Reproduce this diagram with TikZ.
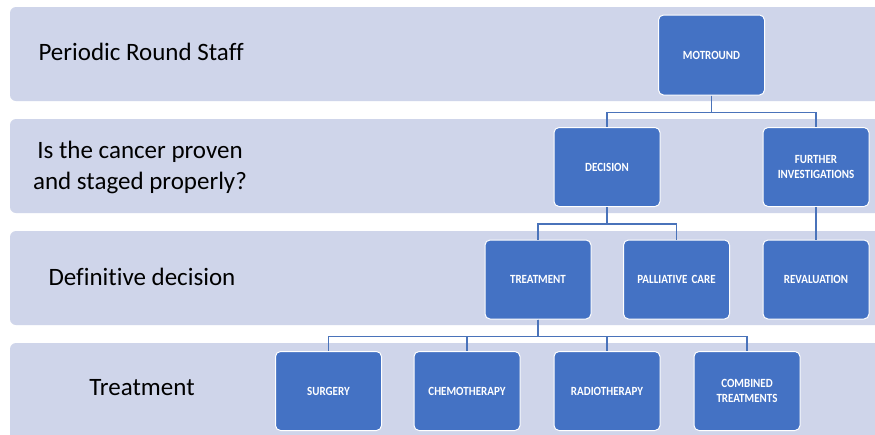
\documentclass[tikz,border=0pt]{standalone}
\usepackage{fontspec}
\setmainfont[Ligatures=NoCommon]{Carlito}
\newfontfamily\boxfont[FakeStretch=0.88,Ligatures=NoCommon]{Carlito}
\definecolor{bandc}{HTML}{CFD5EA}
\definecolor{boxc}{HTML}{4472C4}
\definecolor{linec}{HTML}{4A73BA}
\begin{document}
\begin{tikzpicture}[x=1pt,y=-1pt,
  band/.style={fill=bandc,draw=none,rounded corners=6pt},
  lbl/.style={font=\fontsize{25}{31}\selectfont,text=black,align=center},
  box/.style={fill=boxc,draw=white,line width=1pt,rounded corners=5pt,minimum width=106pt,minimum height=79pt,text width=100pt,align=center,text=white,font=\boxfont\bfseries\fontsize{12.5}{15}\selectfont,inner sep=0pt},
  conn/.style={draw=linec,line width=1.4pt}]
\useasboundingbox (0,0) rectangle (875,434);
\fill[white] (0,0) rectangle (875,434);
\path[band] (10,7) rectangle (890,101);
\path[band] (10,119) rectangle (890,213);
\path[band] (10,231) rectangle (890,325);
\path[band] (10,343) rectangle (890,445);
\node[lbl,anchor=west] (l1) at (35,52) {Periodic Round Staff};
\node[lbl] (l2) at (140,167) {Is the cancer proven\\and staged properly?};
\node[lbl] (l3) at (142,277) {Definitive decision};
\node[lbl] (l4) at (142,388) {Treatment};
\node[box,minimum height=80pt] (mot) at (711.5,55) {MOTROUND};
\node[box] (dec) at (607,167) {DECISION};
\node[box] (fur) at (816,167) {FURTHER\\INVESTIGATIONS};
\node[box] (tre) at (538,279.5) {TREATMENT};
\node[box] (pal) at (676.5,279.5) {PALLIATIVE CARE};
\node[box] (rev) at (816,279.5) {REVALUATION};
\node[box] (sur) at (328.5,391) {SURGERY};
\node[box] (che) at (467,391) {CHEMOTHERAPY};
\node[box] (rad) at (607,391) {RADIOTHERAPY};
\node[box] (com) at (747,391) {COMBINED\\TREATMENTS};
\draw[conn] (mot.south) -- ++(0,17) -| (dec.north);
\draw[conn] (mot.south) -- ++(0,17) -| (fur.north);
\draw[conn] (dec.south) -- ++(0,17) -| (tre.north);
\draw[conn] (dec.south) -- ++(0,17) -| (pal.north);
\draw[conn] (fur.south) -- (rev.north);
\draw[conn] (tre.south) -- ++(0,17) -| (sur.north);
\draw[conn] (tre.south) -- ++(0,17) -| (che.north);
\draw[conn] (tre.south) -- ++(0,17) -| (rad.north);
\draw[conn] (tre.south) -- ++(0,17) -| (com.north);
\end{tikzpicture}
\end{document}
